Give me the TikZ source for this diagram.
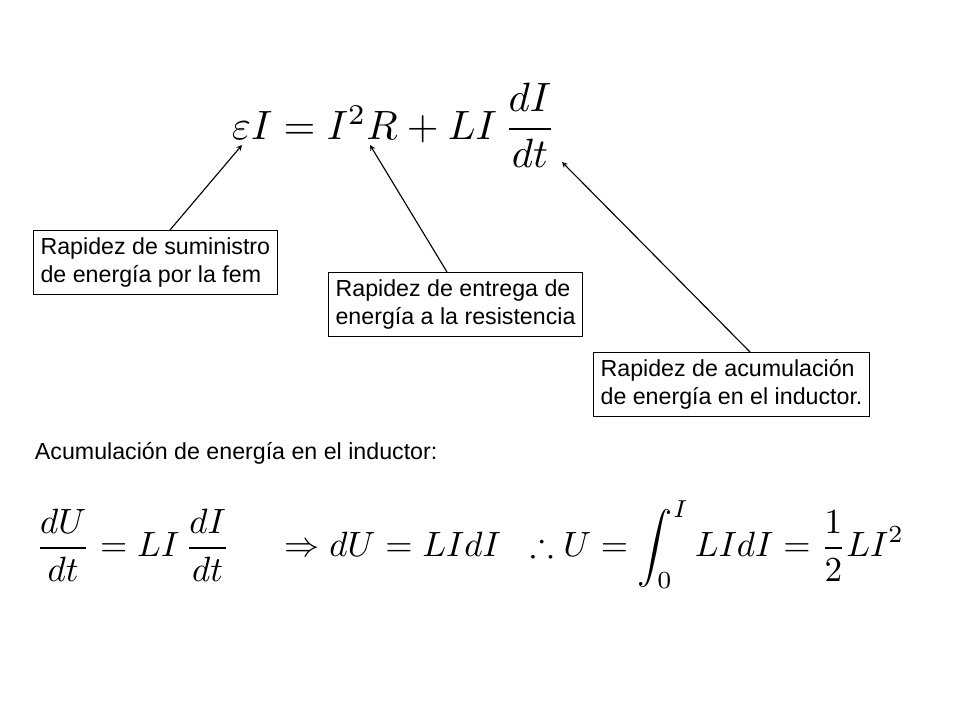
\documentclass[tikz,border=0pt]{standalone}
\usepackage{fontspec}
\usepackage{amsmath,amssymb,graphicx}
\setmainfont{Liberation Sans}
\usetikzlibrary{positioning}
\tikzset{
  note/.style={draw, thick, align=left, anchor=north west, inner sep=5pt, font=\fontsize{16.5}{20}\selectfont},
  pointer/.style={-stealth, thick}
}
\begin{document}
\begin{tikzpicture}[x=0.025cm,y=-0.025cm]
  \useasboundingbox (0,0) rectangle (960,720);
  % EQUATIONS
  \node (top) at (394,125) {\resizebox{8.1cm}{!}{$\varepsilon I = I^{2}R + LI\,\dfrac{dI}{dt}$}};
  \node[anchor=west, font=\fontsize{16.5}{20}\selectfont] (lbl) at (30,453) {Acumulación de energía en el inductor:};
  \node (bot) at (470,545) {\resizebox{21.7cm}{!}{$\dfrac{dU}{dt}=LI\,\dfrac{dI}{dt}\quad\ \Rightarrow dU = LIdI\ \ \therefore U=\displaystyle\int_0^I LIdI=\frac{1}{2}LI^{2}$}};
  % BOXES
  \node[note] (fem) at (33,230) {Rapidez de suministro\\de energía por la fem};
  \node[note] (res) at (328,272) {Rapidez de entrega de\\energía a la resistencia};
  \node[note] (ind) at (593,352) {Rapidez de acumulación\\de energía en el inductor.};
  % ARROWS
  \coordinate (aE) at (242,145);
  \coordinate (aR) at (370,145);
  \coordinate (aL) at (562,162);
  \draw[pointer] (fem.north west) ++(137,0) -- (aE);
  \draw[pointer] (res.north west) ++(119,0) -- (aR);
  \draw[pointer] (ind.north west) ++(157,0) -- (aL);
\end{tikzpicture}
\end{document}
